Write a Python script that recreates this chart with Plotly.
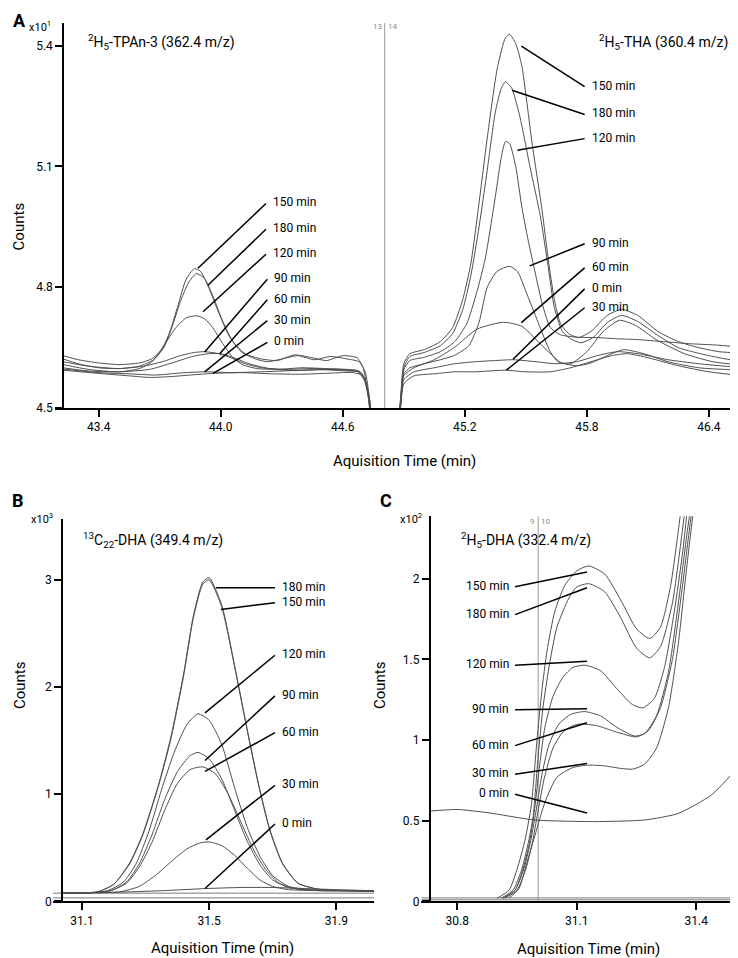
import plotly.graph_objects as go

W, H = 738, 958
FONT = "Roboto"
CURVE = "#4f4f4f"

# ---------------- Panel A : left segment, 2H5-TPAn-3 (362.4 m/z), x10^1 counts ----------------
AL_150_t = [43.2245, 43.30, 43.40, 43.50, 43.60, 43.66, 43.71, 43.75, 43.79, 43.83, 43.87, 43.90, 43.94, 43.99, 44.04, 44.10, 44.17, 44.23, 44.30, 44.38, 44.46, 44.54, 44.62, 44.68, 44.71, 44.73, 44.745]
AL_150_v = [4.630, 4.620, 4.612, 4.608, 4.612, 4.622, 4.645, 4.690, 4.755, 4.820, 4.846, 4.840, 4.800, 4.737, 4.680, 4.640, 4.622, 4.615, 4.622, 4.630, 4.620, 4.628, 4.622, 4.615, 4.590, 4.530, 4.450]
AL_180_t = [43.2245, 43.30, 43.40, 43.50, 43.60, 43.67, 43.72, 43.76, 43.80, 43.84, 43.88, 43.92, 43.96, 44.01, 44.06, 44.12, 44.20, 44.28, 44.36, 44.44, 44.52, 44.60, 44.67, 44.70, 44.725, 44.74]
AL_180_v = [4.622, 4.610, 4.600, 4.598, 4.604, 4.620, 4.650, 4.700, 4.762, 4.810, 4.834, 4.822, 4.780, 4.715, 4.665, 4.635, 4.622, 4.618, 4.632, 4.626, 4.618, 4.630, 4.625, 4.600, 4.530, 4.450]
AL_120_t = [43.2245, 43.35, 43.50, 43.60, 43.66, 43.72, 43.78, 43.83, 43.88, 43.92, 43.96, 44.01, 44.06, 44.11, 44.18, 44.28, 44.40, 44.52, 44.62, 44.68, 44.71, 44.73, 44.745]
AL_120_v = [4.608, 4.596, 4.590, 4.598, 4.614, 4.655, 4.700, 4.724, 4.729, 4.722, 4.700, 4.660, 4.625, 4.607, 4.598, 4.596, 4.600, 4.598, 4.596, 4.592, 4.570, 4.520, 4.450]
AL_90_t = [43.2245, 43.35, 43.50, 43.62, 43.72, 43.80, 43.87, 43.92, 43.98, 44.05, 44.12, 44.20, 44.32, 44.45, 44.58, 44.67, 44.705, 44.728, 44.745]
AL_90_v = [4.615, 4.604, 4.598, 4.604, 4.616, 4.630, 4.638, 4.640, 4.636, 4.625, 4.610, 4.600, 4.596, 4.598, 4.596, 4.592, 4.570, 4.520, 4.450]
AL_60_t = [43.2245, 43.35, 43.50, 43.65, 43.76, 43.86, 43.94, 44.00, 44.06, 44.14, 44.24, 44.36, 44.50, 44.62, 44.68, 44.712, 44.732, 44.748]
AL_60_v = [4.600, 4.592, 4.590, 4.596, 4.612, 4.628, 4.635, 4.635, 4.626, 4.610, 4.598, 4.593, 4.596, 4.594, 4.590, 4.565, 4.520, 4.450]
AL_30_t = [43.2245, 43.40, 43.55, 43.68, 43.80, 43.92, 44.05, 44.20, 44.35, 44.50, 44.62, 44.69, 44.72, 44.74]
AL_30_v = [4.597, 4.588, 4.585, 4.582, 4.587, 4.590, 4.588, 4.590, 4.593, 4.595, 4.592, 4.588, 4.550, 4.450]
AL_0_t = [43.2245, 43.40, 43.55, 43.65, 43.75, 43.85, 43.96, 44.10, 44.25, 44.40, 44.55, 44.65, 44.70, 44.728, 44.748]
AL_0_v = [4.594, 4.586, 4.580, 4.576, 4.578, 4.582, 4.586, 4.588, 4.585, 4.584, 4.587, 4.588, 4.580, 4.530, 4.450]

# ---------------- Panel A : right segment, 2H5-THA (360.4 m/z) ----------------
AR_150_t = [44.872, 44.885, 44.90, 44.93, 45.00, 45.08, 45.14, 45.19, 45.23, 45.27, 45.31, 45.36, 45.40, 45.42, 45.45, 45.48, 45.53, 45.58, 45.61, 45.64, 45.67, 45.71, 45.76, 45.82, 45.90, 45.97, 46.05, 46.15, 46.25, 46.35, 46.45, 46.5725]
AR_150_v = [4.450, 4.530, 4.610, 4.635, 4.645, 4.665, 4.700, 4.770, 4.860, 5.010, 5.170, 5.345, 5.420, 5.428, 5.405, 5.350, 5.160, 4.990, 4.870, 4.770, 4.710, 4.685, 4.675, 4.690, 4.730, 4.745, 4.730, 4.690, 4.665, 4.650, 4.640, 4.636]
AR_180_t = [44.872, 44.885, 44.90, 44.93, 45.00, 45.08, 45.14, 45.19, 45.23, 45.27, 45.31, 45.35, 45.38, 45.40, 45.43, 45.47, 45.52, 45.57, 45.61, 45.64, 45.68, 45.72, 45.77, 45.83, 45.90, 45.97, 46.05, 46.15, 46.25, 46.35, 46.45, 46.5725]
AR_180_v = [4.450, 4.525, 4.600, 4.628, 4.638, 4.655, 4.685, 4.745, 4.830, 4.950, 5.090, 5.235, 5.295, 5.310, 5.295, 5.225, 5.100, 4.980, 4.850, 4.750, 4.690, 4.672, 4.662, 4.675, 4.712, 4.730, 4.715, 4.680, 4.650, 4.636, 4.625, 4.614]
AR_120_t = [44.872, 44.885, 44.90, 44.93, 45.00, 45.08, 45.15, 45.21, 45.26, 45.30, 45.35, 45.38, 45.40, 45.42, 45.45, 45.48, 45.51, 45.54, 45.58, 45.62, 45.67, 45.75, 45.85, 45.95, 46.05, 46.15, 46.30, 46.45, 46.5725]
AR_120_v = [4.450, 4.520, 4.595, 4.618, 4.626, 4.640, 4.665, 4.710, 4.790, 4.870, 5.025, 5.125, 5.162, 5.157, 5.100, 5.000, 4.920, 4.850, 4.760, 4.700, 4.682, 4.676, 4.675, 4.672, 4.670, 4.666, 4.660, 4.656, 4.650]
AR_90_t = [44.872, 44.885, 44.90, 44.93, 45.00, 45.08, 45.15, 45.22, 45.27, 45.31, 45.36, 45.42, 45.46, 45.50, 45.56, 45.62, 45.66, 45.72, 45.80, 45.88, 45.96, 46.04, 46.14, 46.28, 46.42, 46.5725]
AR_90_v = [4.450, 4.515, 4.585, 4.600, 4.610, 4.620, 4.631, 4.655, 4.713, 4.800, 4.840, 4.852, 4.838, 4.790, 4.713, 4.640, 4.614, 4.610, 4.640, 4.690, 4.718, 4.705, 4.670, 4.635, 4.615, 4.606]
AR_60_t = [44.872, 44.885, 44.90, 44.95, 45.05, 45.15, 45.26, 45.39, 45.48, 45.58, 45.67, 45.75, 45.82, 45.90, 45.98, 46.08, 46.20, 46.35, 46.5725]
AR_60_v = [4.450, 4.510, 4.580, 4.600, 4.620, 4.651, 4.696, 4.713, 4.703, 4.655, 4.614, 4.605, 4.612, 4.630, 4.645, 4.635, 4.615, 4.600, 4.594]
AR_0_t = [44.872, 44.885, 44.90, 44.95, 45.05, 45.15, 45.25, 45.35, 45.44, 45.55, 45.65, 45.75, 45.85, 45.95, 46.05, 46.20, 46.35, 46.5725]
AR_0_v = [4.450, 4.510, 4.570, 4.590, 4.600, 4.610, 4.615, 4.618, 4.620, 4.615, 4.610, 4.615, 4.630, 4.640, 4.635, 4.620, 4.610, 4.600]
AR_30_t = [44.872, 44.885, 44.90, 44.95, 45.05, 45.15, 45.25, 45.40, 45.50, 45.62, 45.72, 45.82, 45.92, 46.00, 46.10, 46.25, 46.40, 46.5725]
AR_30_v = [4.450, 4.505, 4.560, 4.580, 4.585, 4.590, 4.590, 4.594, 4.590, 4.590, 4.600, 4.615, 4.630, 4.635, 4.625, 4.605, 4.590, 4.580]

A_segment_break = [44.806]
A_xticks = [43.4, 44.0, 44.6, 45.2, 45.8, 46.4]
A_yticks = [4.5, 4.8, 5.1, 5.4]

# ---------------- Panel B : 13C22-DHA (349.4 m/z), x10^3 counts ----------------
B_big_t = [31.037, 31.10, 31.15, 31.20, 31.25, 31.29, 31.34, 31.38, 31.42, 31.45, 31.48, 31.50, 31.54, 31.58, 31.62, 31.655, 31.69, 31.73, 31.78, 31.85, 31.95, 32.0185]
B_180_v = [0.080, 0.080, 0.090, 0.160, 0.360, 0.620, 1.080, 1.540, 2.130, 2.660, 2.980, 3.020, 2.760, 2.200, 1.600, 1.100, 0.680, 0.360, 0.170, 0.110, 0.100, 0.095]
B_150_v = [0.080, 0.080, 0.090, 0.160, 0.350, 0.610, 1.070, 1.520, 2.110, 2.640, 2.960, 3.000, 2.740, 2.190, 1.590, 1.090, 0.670, 0.355, 0.168, 0.110, 0.100, 0.095]
B_120_t = [31.037, 31.12, 31.18, 31.23, 31.27, 31.31, 31.35, 31.39, 31.43, 31.465, 31.50, 31.54, 31.58, 31.62, 31.66, 31.70, 31.75, 31.82, 31.95, 32.0185]
B_120_v = [0.080, 0.080, 0.100, 0.180, 0.350, 0.650, 1.040, 1.390, 1.650, 1.750, 1.690, 1.460, 1.060, 0.690, 0.420, 0.240, 0.140, 0.110, 0.100, 0.095]
B_90_t = [31.037, 31.12, 31.19, 31.24, 31.28, 31.32, 31.36, 31.40, 31.44, 31.465, 31.50, 31.54, 31.58, 31.62, 31.66, 31.70, 31.75, 31.82, 31.95, 32.0185]
B_90_v = [0.080, 0.080, 0.100, 0.180, 0.350, 0.620, 0.950, 1.210, 1.360, 1.390, 1.330, 1.140, 0.850, 0.560, 0.340, 0.200, 0.130, 0.105, 0.100, 0.095]
B_60_t = [31.037, 31.12, 31.19, 31.24, 31.28, 31.32, 31.36, 31.40, 31.44, 31.48, 31.52, 31.56, 31.60, 31.64, 31.68, 31.72, 31.77, 31.85, 31.95, 32.0185]
B_60_v = [0.080, 0.080, 0.100, 0.170, 0.320, 0.550, 0.850, 1.100, 1.230, 1.255, 1.190, 1.000, 0.740, 0.480, 0.290, 0.170, 0.120, 0.100, 0.100, 0.095]
B_30_t = [31.037, 31.15, 31.22, 31.28, 31.33, 31.38, 31.43, 31.47, 31.50, 31.54, 31.58, 31.62, 31.66, 31.70, 31.75, 31.85, 32.0185]
B_30_v = [0.080, 0.080, 0.090, 0.140, 0.240, 0.370, 0.490, 0.545, 0.555, 0.520, 0.430, 0.310, 0.200, 0.140, 0.110, 0.100, 0.095]
B_0_t = [31.037, 31.20, 31.35, 31.49, 31.60, 31.70, 31.80, 31.90, 32.0185]
B_0_v = [0.078, 0.085, 0.100, 0.120, 0.130, 0.130, 0.120, 0.110, 0.100]
B_flat_v = [0.077, 0.033]
B_xticks = [31.1, 31.5, 31.9]
B_yticks = [0, 1, 2, 3]

# ---------------- Panel C : 2H5-DHA (332.4 m/z), x10^2 counts ----------------
C_150_t = [30.90, 30.93, 30.95, 30.97, 30.986, 31.00, 31.012, 31.025, 31.045, 31.07, 31.10, 31.13, 31.17, 31.21, 31.25, 31.283, 31.31, 31.335, 31.355, 31.37]
C_150_v = [0.02, 0.07, 0.20, 0.38, 0.60, 1.00, 1.30, 1.55, 1.80, 1.96, 2.05, 2.08, 2.03, 1.87, 1.69, 1.63, 1.70, 1.95, 2.30, 2.60]
C_180_t = [30.91, 30.94, 30.962, 30.977, 30.99, 31.003, 31.015, 31.03, 31.05, 31.08, 31.10, 31.13, 31.17, 31.21, 31.25, 31.283, 31.31, 31.34, 31.36, 31.38]
C_180_v = [0.02, 0.07, 0.20, 0.35, 0.52, 0.90, 1.20, 1.45, 1.70, 1.88, 1.95, 1.97, 1.92, 1.76, 1.57, 1.51, 1.58, 1.85, 2.20, 2.60]
C_120_t = [30.915, 30.945, 30.965, 30.98, 30.993, 31.007, 31.02, 31.04, 31.065, 31.09, 31.12, 31.16, 31.20, 31.24, 31.266, 31.295, 31.32, 31.345, 31.365, 31.385]
C_120_v = [0.02, 0.07, 0.20, 0.35, 0.55, 0.85, 1.08, 1.27, 1.39, 1.45, 1.465, 1.43, 1.32, 1.22, 1.20, 1.26, 1.45, 1.80, 2.15, 2.60]
C_90_t = [30.915, 30.945, 30.967, 30.983, 30.997, 31.012, 31.03, 31.055, 31.085, 31.12, 31.16, 31.20, 31.245, 31.27, 31.30, 31.33, 31.355, 31.375, 31.395]
C_90_v = [0.02, 0.07, 0.20, 0.36, 0.55, 0.78, 0.97, 1.10, 1.16, 1.177, 1.15, 1.08, 1.025, 1.04, 1.15, 1.42, 1.85, 2.25, 2.60]
C_60_t = [30.92, 30.95, 30.972, 30.988, 31.002, 31.018, 31.04, 31.065, 31.09, 31.11, 31.15, 31.20, 31.25, 31.28, 31.31, 31.34, 31.365, 31.385, 31.40]
C_60_v = [0.02, 0.07, 0.20, 0.36, 0.55, 0.76, 0.95, 1.05, 1.09, 1.10, 1.09, 1.05, 1.02, 1.06, 1.20, 1.50, 1.95, 2.35, 2.60]
C_30_t = [30.93, 30.955, 30.97, 30.995, 31.02, 31.05, 31.09, 31.13, 31.17, 31.21, 31.24, 31.27, 31.30, 31.33, 31.355, 31.375, 31.395, 31.41]
C_30_v = [0.02, 0.08, 0.20, 0.41, 0.615, 0.77, 0.83, 0.845, 0.84, 0.825, 0.82, 0.85, 0.95, 1.20, 1.60, 2.05, 2.45, 2.60]
C_0_t = [30.731, 30.80, 30.877, 30.994, 31.145, 31.27, 31.354, 31.438, 31.513]
C_0_v = [0.560, 0.570, 0.550, 0.505, 0.495, 0.505, 0.545, 0.660, 0.855]
C_flat_v = [0.022, 0.010]
C_segment_break = [31.003]
C_xticks = [30.8, 31.1, 31.4]
C_yticks = [0, 0.5, 1, 1.5, 2]

# label leaders: (text, point on curve t, v, label anchor t, v)
A_left_labels = [("150 min", 43.888, 4.847, 44.2225, 5.008), ("180 min", 43.937, 4.805, 44.2225, 4.944),
                 ("120 min", 43.913, 4.739, 44.2225, 4.882), ("90 min", 43.921, 4.639, 44.229, 4.820),
                 ("60 min", 43.995, 4.635, 44.229, 4.769), ("30 min", 43.921, 4.590, 44.229, 4.717),
                 ("0 min", 43.962, 4.586, 44.229, 4.663)]
A_right_labels = [("150 min", 45.478, 5.399, 45.789, 5.298), ("180 min", 45.432, 5.289, 45.789, 5.229),
                  ("120 min", 45.458, 5.140, 45.789, 5.169), ("90 min", 45.519, 4.853, 45.789, 4.908),
                  ("60 min", 45.478, 4.712, 45.789, 4.848), ("0 min", 45.437, 4.621, 45.789, 4.796),
                  ("30 min", 45.404, 4.594, 45.789, 4.749)]
B_labels = [("180 min", 31.5215, 2.926, 31.707, 2.926), ("150 min", 31.537, 2.722, 31.707, 2.787),
            ("120 min", 31.487, 1.759, 31.707, 2.296), ("90 min", 31.487, 1.315, 31.707, 1.917),
            ("60 min", 31.487, 1.213, 31.707, 1.574), ("30 min", 31.49, 0.574, 31.707, 1.083),
            ("0 min", 31.487, 0.120, 31.707, 0.722)]
C_labels = [("150 min", 31.1256, 2.043, 30.945, 1.951), ("180 min", 31.1256, 1.945, 30.945, 1.778),
            ("120 min", 31.1256, 1.489, 30.945, 1.465), ("90 min", 31.1256, 1.194, 30.945, 1.188),
            ("60 min", 31.1256, 1.108, 30.945, 0.966), ("30 min", 31.1256, 0.855, 30.945, 0.788),
            ("0 min", 31.1256, 0.548, 30.945, 0.665)]

fig = go.Figure()


def curve(t, v, xa, ya, color=CURVE, width=1.0, spline=True):
    line = dict(color=color, width=width)
    if spline:
        line.update(shape="spline", smoothing=0.6)
    fig.add_trace(go.Scatter(x=t, y=v, mode="lines", line=line, xaxis=xa, yaxis=ya,
                             showlegend=False, hoverinfo="skip"))


# Panel A
for t, v in [(AL_0_t, AL_0_v), (AL_30_t, AL_30_v), (AL_60_t, AL_60_v), (AL_90_t, AL_90_v),
             (AL_120_t, AL_120_v), (AL_180_t, AL_180_v), (AL_150_t, AL_150_v),
             (AR_0_t, AR_0_v), (AR_30_t, AR_30_v), (AR_60_t, AR_60_v), (AR_90_t, AR_90_v),
             (AR_120_t, AR_120_v), (AR_180_t, AR_180_v), (AR_150_t, AR_150_v)]:
    curve(t, v, "x", "y")
curve(A_segment_break * 2, [4.5, 5.4564], "x", "y", color="#9a9a9a", width=1, spline=False)

# Panel B
for yv in B_flat_v:
    curve([31.0088, 32.0185], [yv, yv], "x2", "y2", color="#7a7a7a", width=1, spline=False)
for t, v in [(B_0_t, B_0_v), (B_30_t, B_30_v), (B_60_t, B_60_v), (B_90_t, B_90_v),
             (B_120_t, B_120_v), (B_big_t, B_150_v), (B_big_t, B_180_v)]:
    curve(t, v, "x2", "y2")

# Panel C
for yv in C_flat_v:
    curve([30.7096, 31.513], [yv, yv], "x3", "y3", color="#7a7a7a", width=1, spline=False)
curve(C_segment_break * 2, [0, 2.388], "x3", "y3", color="#9a9a9a", width=1, spline=False)
for t, v in [(C_0_t, C_0_v), (C_30_t, C_30_v), (C_60_t, C_60_v), (C_90_t, C_90_v),
             (C_120_t, C_120_v), (C_180_t, C_180_v), (C_150_t, C_150_v)]:
    curve(t, v, "x3", "y3")

annotations = []


def add_labels(labels, xa, ya, anchor):
    for text, ct, cv, lt, lv in labels:
        fig.add_trace(go.Scatter(x=[ct, lt], y=[cv, lv], mode="lines",
                                 line=dict(color="black", width=1.5), xaxis=xa, yaxis=ya,
                                 showlegend=False, hoverinfo="skip"))
        annotations.append(dict(x=lt, y=lv, xref=xa, yref=ya, text=text, showarrow=False,
                                xanchor=anchor, yanchor="middle",
                                xshift=5 if anchor == "left" else -4, yshift=1,
                                font=dict(family=FONT, size=12, color="black")))


add_labels(A_left_labels, "x", "y", "left")
add_labels(A_right_labels, "x", "y", "left")
add_labels(B_labels, "x2", "y2", "left")
add_labels(C_labels, "x3", "y3", "right")


def ptext(text, x, y, size=15, anchor="center", angle=0, bold=False, color="black"):
    if bold:
        text = "<b>" + text + "</b>"
    annotations.append(dict(x=x / W, y=1 - y / H, xref="paper", yref="paper", text=text,
                            showarrow=False, xanchor=anchor, yanchor="middle", textangle=angle,
                            font=dict(family=FONT, size=size, color=color)))


ptext("A", 11, 13, size=18, bold=True)
ptext("B", 10, 496, size=18, bold=True)
ptext("C", 378, 496, size=18, bold=True)
ptext("x10<sup>1</sup>", 32, 19, size=11)
ptext("x10<sup>3</sup>", 34, 514, size=11)
ptext("x10<sup>2</sup>", 403, 514, size=11)
ptext("<sup>2</sup>H<sub>5</sub>-TPAn-3 (362.4 m/z)", 78, 34, size=14, anchor="left")
ptext("<sup>2</sup>H<sub>5</sub>-THA (360.4 m/z)", 589, 34, size=14, anchor="left")
ptext("<sup>13</sup>C<sub>22</sub>-DHA (349.4 m/z)", 73, 536, size=14, anchor="left")
ptext("<sup>2</sup>H<sub>5</sub>-DHA (332.4 m/z)", 451, 536, size=14, anchor="left")
ptext("Counts", 11, 220, size=15, angle=-90)
ptext("Counts", 12, 682, size=15, angle=-90)
ptext("Counts", 372, 682, size=15, angle=-90)
ptext("Aquisition Time (min)", 396, 456, size=15)
ptext("Aquisition Time (min)", 214, 947, size=15)
ptext("Aquisition Time (min)", 580, 948, size=15)
ptext("13", 376, 19, size=8, anchor="right", color="#8a8a8a")
ptext("14", 378, 19, size=8, anchor="left", color="#8a8a8a")
ptext("9", 529, 517, size=8, anchor="right", color="#8a8a8a")
ptext("10", 531, 517, size=8, anchor="left", color="#8a8a8a")

ax = dict(showline=True, linecolor="black", linewidth=1.6, ticks="outside", ticklen=7,
          tickwidth=1.5, tickcolor="black", showgrid=False, zeroline=False,
          tickfont=dict(family=FONT, size=12, color="black"), fixedrange=True)

fig.update_layout(
    width=W, height=H, autosize=False,
    margin=dict(l=0, r=0, t=0, b=0),
    paper_bgcolor="white", plot_bgcolor="white",
    font=dict(family=FONT, color="black"),
    xaxis=dict(domain=[47 / W, 736 / W], range=[43.1852, 46.5725], anchor="y",
               tickvals=A_xticks, ticktext=[f"{v:.1f}" for v in A_xticks], **ax),
    yaxis=dict(domain=[1 - 403 / H, 1 - 15 / H], range=[4.5, 5.4564], anchor="free",
               position=55 / W, tickvals=A_yticks, ticktext=[f"{v:.1f}" for v in A_yticks], **ax),
    xaxis2=dict(domain=[45 / W, 366 / W], range=[31.0088, 32.0185], anchor="y2",
                tickvals=B_xticks, ticktext=[f"{v:.1f}" for v in B_xticks], **ax),
    yaxis2=dict(domain=[1 - 900 / H, 1 - 515 / H], range=[0, 3.565], anchor="free",
                position=54 / W, tickvals=B_yticks, ticktext=[str(v) for v in B_yticks], **ax),
    xaxis3=dict(domain=[413.3 / W, 733.3 / W], range=[30.7096, 31.513], anchor="y3",
                tickvals=C_xticks, ticktext=[f"{v:.1f}" for v in C_xticks], **ax),
    yaxis3=dict(domain=[1 - 900 / H, 1 - 512 / H], range=[0, 2.388], anchor="free",
                position=421.7 / W, tickvals=C_yticks, ticktext=["0", "0.5", "1", "1.5", "2"], **ax),
    annotations=annotations,
)

fig.write_html("out.html")
